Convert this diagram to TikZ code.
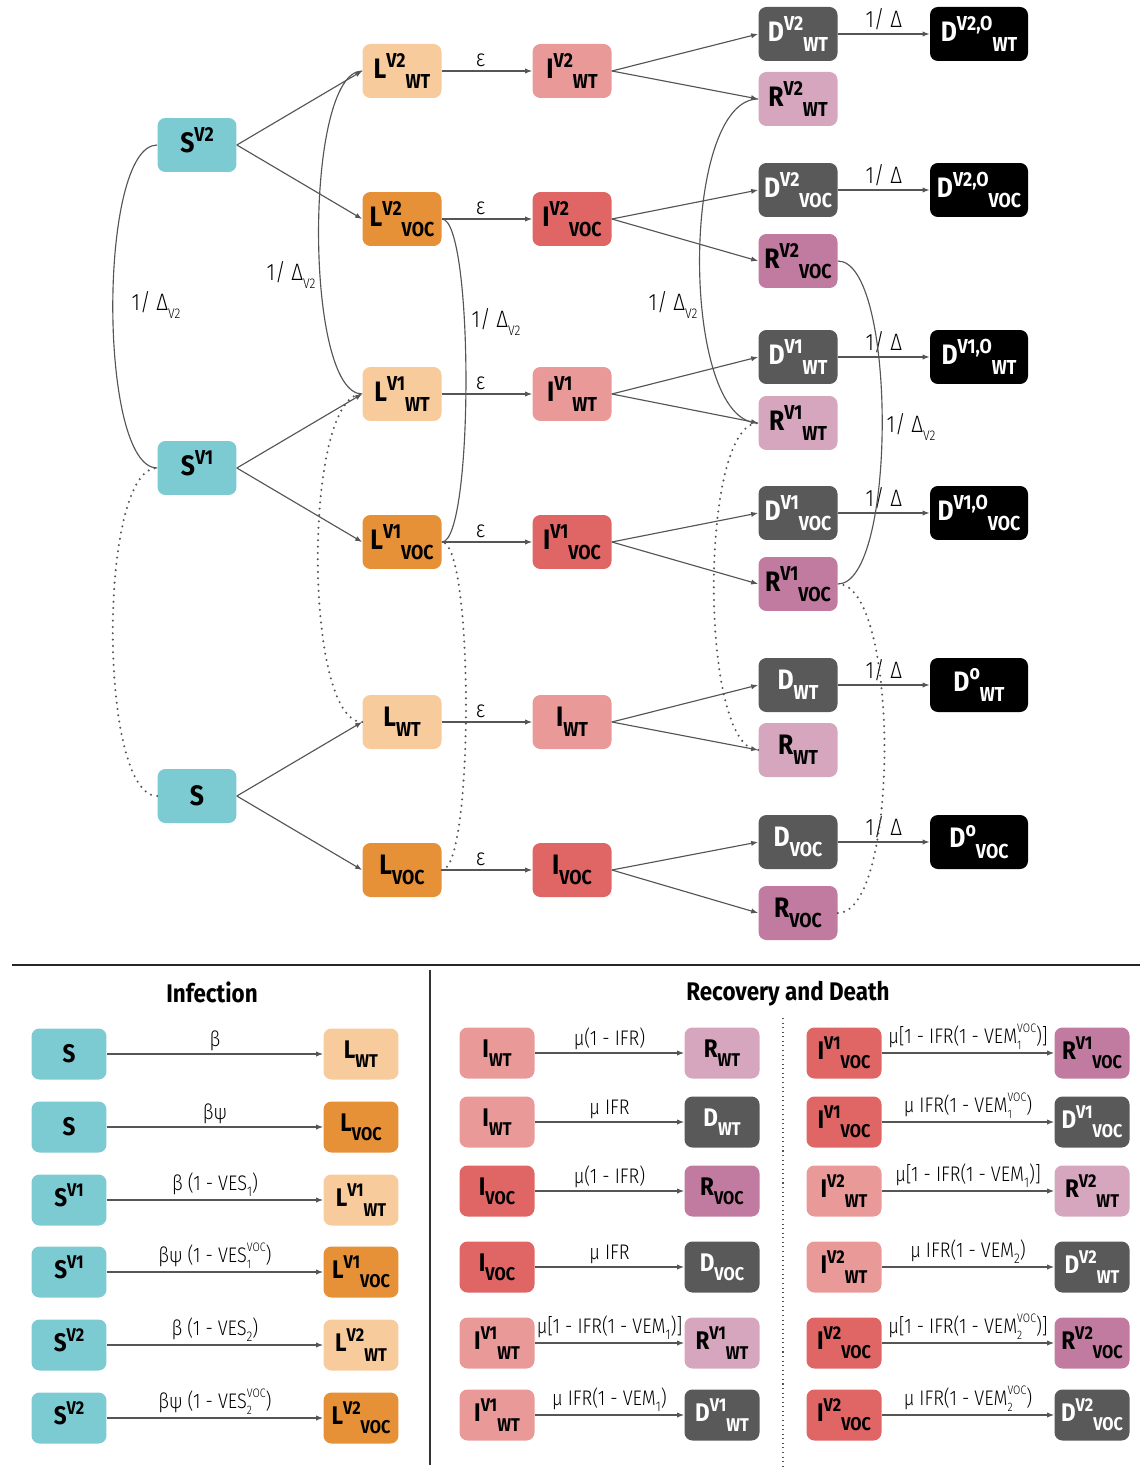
\documentclass[tikz,border=0pt]{standalone}
\usepackage{fontspec}
\setmainfont{Fira Sans}[FakeStretch=0.88]
\newfontfamily\lightfont{Fira Sans Light}[FakeStretch=0.86]
\usetikzlibrary{arrows.meta,positioning}

\definecolor{colS}{HTML}{7CCBD3}
\definecolor{colLwt}{HTML}{F8CB9D}
\definecolor{colLvoc}{HTML}{E69137}
\definecolor{colIwt}{HTML}{EA9999}
\definecolor{colIvoc}{HTML}{E06666}
\definecolor{colRwt}{HTML}{D5A6BD}
\definecolor{colRvoc}{HTML}{C27BA0}
\definecolor{colD}{HTML}{595959}
\definecolor{colLine}{HTML}{555555}

% compartment name: letter, superscript, then subscript after it
\def\cmpsz{10pt}
\newcommand{\cmpsmall}{\fontsize{\cmpsz}{\cmpsz}\selectfont}
\newcommand{\cmpt}[3]{#1\raisebox{0.4em}{\cmpsmall #2}\raisebox{-0.36em}{\cmpsmall #3}}
% rate labels
\newcommand{\lsub}[1]{\raisebox{-0.3em}{\fontsize{8}{8}\selectfont #1}}
\newcommand{\lstk}[2]{\rlap{\raisebox{-0.3em}{\fontsize{7}{7}\selectfont #1}}\raisebox{0.5em}{\fontsize{7}{7}\selectfont #2}}

\tikzset{
  cbox/.style={rounded corners=4.5pt, inner sep=0pt, minimum width=1.58cm, minimum height=1.08cm,
    font=\def\cmpsz{11.5pt}\fontsize{16}{16}\selectfont\bfseries},
  obox/.style={cbox, fill=black, text=white, minimum width=1.96cm},
  kbox/.style={rounded corners=4.5pt, inner sep=0pt, minimum width=1.5cm, minimum height=1.02cm,
    font=\def\cmpsz{10.5pt}\fontsize{14.5}{14.5}\selectfont\bfseries},
  conn/.style={draw=colLine, line width=0.65pt, -{Latex[length=4pt,width=3pt]}},
  vcurve/.style={draw=colLine, line width=0.65pt},
  vdots/.style={draw=colLine, line width=1.3pt, line cap=round, dash pattern=on 0pt off 3.6pt},
  rate/.style={font=\lightfont\fontsize{13.5}{13.5}\selectfont, inner sep=2pt},
  krate/.style={font=\lightfont\fontsize{12}{12}\selectfont, inner sep=1.5pt, anchor=south},
  ttl/.style={font=\fontsize{14.5}{14.5}\selectfont\bfseries}
}

\begin{document}
\begin{tikzpicture}[x=0.02cm,y=-0.02cm]
\useasboundingbox (0,0) rectangle (1147,1469);

% susceptible
\node[cbox, fill=colS] (sv2) at (197,145) {\cmpt{S}{V2}{}};
\node[cbox, fill=colS] (sv1) at (197,468) {\cmpt{S}{V1}{}};
\node[cbox, fill=colS] (s0) at (197,796) {S};

% latent
\node[cbox, fill=colLwt] (lv2wt) at (402,71) {\cmpt{L}{V2}{WT}};
\node[cbox, fill=colLvoc] (lv2voc) at (402,219) {\cmpt{L}{V2}{VOC}};
\node[cbox, fill=colLwt] (lv1wt) at (402,394) {\cmpt{L}{V1}{WT}};
\node[cbox, fill=colLvoc] (lv1voc) at (402,542) {\cmpt{L}{V1}{VOC}};
\node[cbox, fill=colLwt] (lwt) at (402,722) {\cmpt{L}{}{WT}};
\node[cbox, fill=colLvoc] (lvoc) at (402,870) {\cmpt{L}{}{VOC}};

% infectious
\node[cbox, fill=colIwt] (iv2wt) at (572,71) {\cmpt{I}{V2}{WT}};
\node[cbox, fill=colIvoc] (iv2voc) at (572,219) {\cmpt{I}{V2}{VOC}};
\node[cbox, fill=colIwt] (iv1wt) at (572,394) {\cmpt{I}{V1}{WT}};
\node[cbox, fill=colIvoc] (iv1voc) at (572,542) {\cmpt{I}{V1}{VOC}};
\node[cbox, fill=colIwt] (iwt) at (572,722) {\cmpt{I}{}{WT}};
\node[cbox, fill=colIvoc] (ivoc) at (572,870) {\cmpt{I}{}{VOC}};

% dead and recovered
\node[cbox, fill=colD, text=white] (dv2wt) at (798,34) {\cmpt{D}{V2}{WT}};
\node[cbox, fill=colRwt] (rv2wt) at (798,99) {\cmpt{R}{V2}{WT}};
\node[cbox, fill=colD, text=white] (dv2voc) at (798,190) {\cmpt{D}{V2}{VOC}};
\node[cbox, fill=colRvoc] (rv2voc) at (798,261) {\cmpt{R}{V2}{VOC}};
\node[cbox, fill=colD, text=white] (dv1wt) at (798,357) {\cmpt{D}{V1}{WT}};
\node[cbox, fill=colRwt] (rv1wt) at (798,423) {\cmpt{R}{V1}{WT}};
\node[cbox, fill=colD, text=white] (dv1voc) at (798,513) {\cmpt{D}{V1}{VOC}};
\node[cbox, fill=colRvoc] (rv1voc) at (798,584) {\cmpt{R}{V1}{VOC}};
\node[cbox, fill=colD, text=white] (dwt) at (798,685) {\cmpt{D}{}{WT}};
\node[cbox, fill=colRwt] (rwt) at (798,750) {\cmpt{R}{}{WT}};
\node[cbox, fill=colD, text=white] (dvoc) at (798,842) {\cmpt{D}{}{VOC}};
\node[cbox, fill=colRvoc] (rvoc) at (798,913) {\cmpt{R}{}{VOC}};

% observed deaths
\node[obox] (dov2wt) at (979,34) {\cmpt{D}{V2,O}{WT}};
\node[obox] (dov2voc) at (979,190) {\cmpt{D}{V2,O}{VOC}};
\node[obox] (dov1wt) at (979,357) {\cmpt{D}{V1,O}{WT}};
\node[obox] (dov1voc) at (979,513) {\cmpt{D}{V1,O}{VOC}};
\node[obox] (dowt) at (979,685) {\cmpt{D}{o}{WT}};
\node[obox] (dovoc) at (979,842) {\cmpt{D}{o}{VOC}};

% infection
\draw[conn] (sv2.east) -- (lv2wt.west);
\draw[conn] (sv2.east) -- (lv2voc.west);
\draw[conn] (sv1.east) -- (lv1wt.west);
\draw[conn] (sv1.east) -- (lv1voc.west);
\draw[conn] (s0.east) -- (lwt.west);
\draw[conn] (s0.east) -- (lvoc.west);

% latent to infectious
\draw[conn] (lv2wt) -- node[rate, above, pos=0.43] (e1) {ε} (iv2wt);
\draw[conn] (lv2voc) -- node[rate, above, pos=0.43] (e2) {ε} (iv2voc);
\draw[conn] (lv1wt) -- node[rate, above, pos=0.43] (e3) {ε} (iv1wt);
\draw[conn] (lv1voc) -- node[rate, above, pos=0.43] (e4) {ε} (iv1voc);
\draw[conn] (lwt) -- node[rate, above, pos=0.43] (e5) {ε} (iwt);
\draw[conn] (lvoc) -- node[rate, above, pos=0.43] (e6) {ε} (ivoc);

% outcomes
\draw[conn] (iv2wt.east) -- (dv2wt.west);
\draw[conn] (iv2wt.east) -- (rv2wt.west);
\draw[conn] (iv2voc.east) -- (dv2voc.west);
\draw[conn] (iv2voc.east) -- (rv2voc.west);
\draw[conn] (iv1wt.east) -- (dv1wt.west);
\draw[conn] (iv1wt.east) -- (rv1wt.west);
\draw[conn] (iv1voc.east) -- (dv1voc.west);
\draw[conn] (iv1voc.east) -- (rv1voc.west);
\draw[conn] (iwt.east) -- (dwt.west);
\draw[conn] (iwt.east) -- (rwt.west);
\draw[conn] (ivoc.east) -- (dvoc.west);
\draw[conn] (ivoc.east) -- (rvoc.west);

% reporting delay
\draw[conn] (dv2wt) -- node[rate, above] (dl1) {1/ Δ} (dov2wt);
\draw[conn] (dv2voc) -- node[rate, above] (dl2) {1/ Δ} (dov2voc);
\draw[conn] (dv1wt) -- node[rate, above] (dl3) {1/ Δ} (dov1wt);
\draw[conn] (dv1voc) -- node[rate, above] (dl4) {1/ Δ} (dov1voc);
\draw[conn] (dwt) -- node[rate, above] (dl5) {1/ Δ} (dowt);
\draw[conn] (dvoc) -- node[rate, above] (dl6) {1/ Δ} (dovoc);

% second dose
\draw[vcurve] (sv1.west) .. controls (98,468) and (98,145) .. (sv2.west);
\draw[vcurve] (lv1wt.west) .. controls (304,394) and (304,71) .. (lv2wt.west);
\draw[vcurve] (lv1voc.east) .. controls (474,542) and (474,219) .. (lv2voc.east);
\draw[vcurve] (rv1wt.west) .. controls (680,423) and (680,99) .. (rv2wt.west);
\draw[vcurve] (rv1voc.east) .. controls (897,584) and (897,261) .. (rv2voc.east);
\node[rate] (dv2a) at (156,305) {1/ Δ\lsub{V2}};
\node[rate] (dv2b) at (291,275) {1/ Δ\lsub{V2}};
\node[rate] (dv2c) at (496,322) {1/ Δ\lsub{V2}};
\node[rate] (dv2d) at (673,305) {1/ Δ\lsub{V2}};
\node[rate] (dv2e) at (911,427) {1/ Δ\lsub{V2}};

% first dose
\draw[vdots] (s0.west) .. controls (98,796) and (98,468) .. (sv1.west);
\draw[vdots] (lwt.west) .. controls (303,722) and (303,394) .. (lv1wt.west);
\draw[vdots] (lvoc.east) .. controls (474,870) and (474,542) .. (lv1voc.east);
\draw[vdots] (rwt.west) .. controls (699,750) and (699,423) .. (rv1wt.west);
\draw[vdots] (rvoc.east) .. controls (900,913) and (900,584) .. (rv1voc.east);

% legend frame
\draw[line width=1.3pt, draw=black!85] (12,965) -- (1140,965);
\draw[line width=1pt, draw=black!80] (430,970) -- (430,1465);
\draw[colLine, line width=0.6pt, dotted] (783,1018) -- (783,1469);

\node[ttl] (tinf) at (212,992) {Infection};
\node[ttl] (trec) at (788,994) {Recovery and Death};

% infection legend
\node[kbox, fill=colS] (ka1) at (69,1054) {S};
\node[kbox, fill=colLwt] (kb1) at (361,1054) {\cmpt{L}{}{WT}};
\draw[conn] (ka1) -- node[krate] (kr1) {β} (kb1);
\node[kbox, fill=colS] (ka2) at (69,1127) {S};
\node[kbox, fill=colLvoc] (kb2) at (361,1127) {\cmpt{L}{}{VOC}};
\draw[conn] (ka2) -- node[krate] (kr2) {βψ} (kb2);
\node[kbox, fill=colS] (ka3) at (69,1200) {\cmpt{S}{V1}{}};
\node[kbox, fill=colLwt] (kb3) at (361,1200) {\cmpt{L}{V1}{WT}};
\draw[conn] (ka3) -- node[krate] (kr3) {β (1 - VES\lsub{1})} (kb3);
\node[kbox, fill=colS] (ka4) at (69,1272) {\cmpt{S}{V1}{}};
\node[kbox, fill=colLvoc] (kb4) at (361,1272) {\cmpt{L}{V1}{VOC}};
\draw[conn] (ka4) -- node[krate] (kr4) {βψ (1 - VES\lstk{1}{VOC})} (kb4);
\node[kbox, fill=colS] (ka5) at (69,1345) {\cmpt{S}{V2}{}};
\node[kbox, fill=colLwt] (kb5) at (361,1345) {\cmpt{L}{V2}{WT}};
\draw[conn] (ka5) -- node[krate] (kr5) {β (1 - VES\lsub{2})} (kb5);
\node[kbox, fill=colS] (ka6) at (69,1418) {\cmpt{S}{V2}{}};
\node[kbox, fill=colLvoc] (kb6) at (361,1418) {\cmpt{L}{V2}{VOC}};
\draw[conn] (ka6) -- node[krate] (kr6) {βψ (1 - VES\lstk{2}{VOC})} (kb6);

% recovery and death legend, left column
\node[kbox, fill=colIwt] (ma1) at (497,1053) {\cmpt{I}{}{WT}};
\node[kbox, fill=colRwt] (mb1) at (722,1053) {\cmpt{R}{}{WT}};
\draw[conn] (ma1) -- node[krate] (mr1) {μ(1 - IFR)} (mb1);
\node[kbox, fill=colIwt] (ma2) at (497,1122) {\cmpt{I}{}{WT}};
\node[kbox, fill=colD, text=white] (mb2) at (722,1122) {\cmpt{D}{}{WT}};
\draw[conn] (ma2) -- node[krate] (mr2) {μ IFR} (mb2);
\node[kbox, fill=colIvoc] (ma3) at (497,1191) {\cmpt{I}{}{VOC}};
\node[kbox, fill=colRvoc] (mb3) at (722,1191) {\cmpt{R}{}{VOC}};
\draw[conn] (ma3) -- node[krate] (mr3) {μ(1 - IFR)} (mb3);
\node[kbox, fill=colIvoc] (ma4) at (497,1267) {\cmpt{I}{}{VOC}};
\node[kbox, fill=colD, text=white] (mb4) at (722,1267) {\cmpt{D}{}{VOC}};
\draw[conn] (ma4) -- node[krate] (mr4) {μ IFR} (mb4);
\node[kbox, fill=colIwt] (ma5) at (497,1343) {\cmpt{I}{V1}{WT}};
\node[kbox, fill=colRwt] (mb5) at (722,1343) {\cmpt{R}{V1}{WT}};
\draw[conn] (ma5) -- node[krate] (mr5) {μ[1 - IFR(1 - VEM\lsub{1})]} (mb5);
\node[kbox, fill=colIwt] (ma6) at (497,1415) {\cmpt{I}{V1}{WT}};
\node[kbox, fill=colD, text=white] (mb6) at (722,1415) {\cmpt{D}{V1}{WT}};
\draw[conn] (ma6) -- node[krate] (mr6) {μ IFR(1 - VEM\lsub{1})} (mb6);

% recovery and death legend, right column
\node[kbox, fill=colIvoc] (na1) at (844,1053) {\cmpt{I}{V1}{VOC}};
\node[kbox, fill=colRvoc] (nb1) at (1092,1053) {\cmpt{R}{V1}{VOC}};
\draw[conn] (na1) -- node[krate] (nr1) {μ[1 - IFR(1 - VEM\lstk{1}{VOC})]} (nb1);
\node[kbox, fill=colIvoc] (na2) at (844,1122) {\cmpt{I}{V1}{VOC}};
\node[kbox, fill=colD, text=white] (nb2) at (1092,1122) {\cmpt{D}{V1}{VOC}};
\draw[conn] (na2) -- node[krate] (nr2) {μ IFR(1 - VEM\lstk{1}{VOC})} (nb2);
\node[kbox, fill=colIwt] (na3) at (844,1191) {\cmpt{I}{V2}{WT}};
\node[kbox, fill=colRwt] (nb3) at (1092,1191) {\cmpt{R}{V2}{WT}};
\draw[conn] (na3) -- node[krate] (nr3) {μ[1 - IFR(1 - VEM\lsub{1})]} (nb3);
\node[kbox, fill=colIwt] (na4) at (844,1267) {\cmpt{I}{V2}{WT}};
\node[kbox, fill=colD, text=white] (nb4) at (1092,1267) {\cmpt{D}{V2}{WT}};
\draw[conn] (na4) -- node[krate] (nr4) {μ IFR(1 - VEM\lsub{2})} (nb4);
\node[kbox, fill=colIvoc] (na5) at (844,1343) {\cmpt{I}{V2}{VOC}};
\node[kbox, fill=colRvoc] (nb5) at (1092,1343) {\cmpt{R}{V2}{VOC}};
\draw[conn] (na5) -- node[krate] (nr5) {μ[1 - IFR(1 - VEM\lstk{2}{VOC})]} (nb5);
\node[kbox, fill=colIvoc] (na6) at (844,1415) {\cmpt{I}{V2}{VOC}};
\node[kbox, fill=colD, text=white] (nb6) at (1092,1415) {\cmpt{D}{V2}{VOC}};
\draw[conn] (na6) -- node[krate] (nr6) {μ IFR(1 - VEM\lstk{2}{VOC})} (nb6);

\end{tikzpicture}
\end{document}
